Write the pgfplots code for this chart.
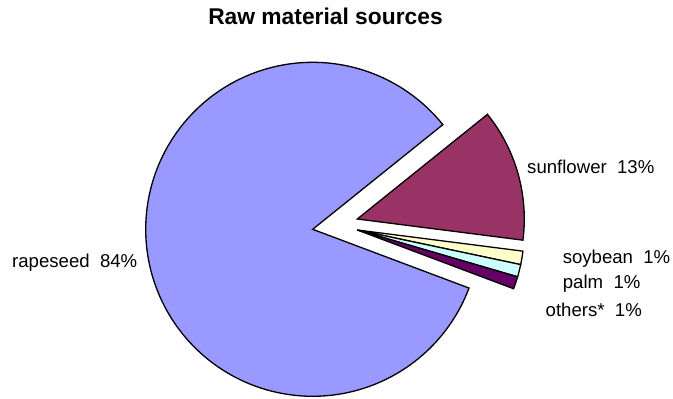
\documentclass[border=0pt]{standalone}
\usepackage{pgfplots}
\pgfplotsset{compat=1.18}
\usepackage{fontspec}
\setmainfont{Liberation Sans}
\definecolor{rape}{HTML}{9999FF}
\definecolor{sunf}{HTML}{993366}
\definecolor{soyb}{HTML}{FFFFCC}
\definecolor{palmc}{HTML}{CCFFFF}
\definecolor{oth}{HTML}{660066}
% shares in percent
\def\pOth{1.2}
\def\pPalm{1.2}
\def\pSoy{1.3}
\def\pSun{12.8}
\def\pRape{83.5}
\pgfmathsetmacro\aA{-20.6}
\pgfmathsetmacro\aB{\aA+3.6*\pOth}
\pgfmathsetmacro\aC{\aB+3.6*\pPalm}
\pgfmathsetmacro\aD{\aC+3.6*\pSoy}
\pgfmathsetmacro\aE{\aD+3.6*\pSun}
\pgfmathsetmacro\aF{\aE+3.6*\pRape}
\def\R{167}
\begin{document}
\begin{tikzpicture}
\useasboundingbox (0,0) rectangle (673pt,399pt);
\begin{axis}[scale only axis, width=673pt, height=399pt,
  xmin=0, xmax=673, ymin=0, ymax=399, axis lines=none, clip=false,
  every axis plot/.append style={draw=black, line width=1.3pt, line join=miter, variable=\t}]
% rapeseed
\addplot[fill=rape, domain=\aE:\aF, samples=181] ({312.7+\R*cos(\t)}, {169.7+\R*sin(\t)}) -- (axis cs:312.7,169.7) -- cycle;
% sunflower (exploded)
\addplot[fill=sunf, domain=\aD:\aE, samples=41] ({357.3+\R*cos(\t)}, {180.0+\R*sin(\t)}) -- (axis cs:357.3,180.0) -- cycle;
% soybean
\addplot[fill=soyb, domain=\aC:\aD, samples=8] ({357.3+\R*cos(\t)}, {169.0+\R*sin(\t)}) -- (axis cs:357.3,169.0) -- cycle;
% palm
\addplot[fill=palmc, domain=\aB:\aC, samples=8] ({357.3+\R*cos(\t)}, {169.0+\R*sin(\t)}) -- (axis cs:357.3,169.0) -- cycle;
% others
\addplot[fill=oth, domain=\aA:\aB, samples=8] ({357.3+\R*cos(\t)}, {169.0+\R*sin(\t)}) -- (axis cs:357.3,169.0) -- cycle;
\end{axis}
\begin{scope}[every node/.style={inner sep=0pt, font=\fontsize{18.6}{22}\selectfont}]
\node[anchor=base, font=\bfseries\fontsize{22.8}{27}\selectfont] at (325.5pt,374pt) {Raw material sources};
\node[anchor=base west] at (12pt,131pt) {rapeseed\ \ 84\%};
\node[anchor=base west] at (527pt,225.7pt) {sunflower\ \ 13\%};
\node[anchor=base east] at (670.5pt,135.7pt) {soybean\ \ 1\%};
\node[anchor=base west] at (562.7pt,110pt) {palm\ \ 1\%};
\node[anchor=base west] at (545.5pt,82.3pt) {others*\ \ 1\%};
\end{scope}
\end{tikzpicture}
\end{document}
